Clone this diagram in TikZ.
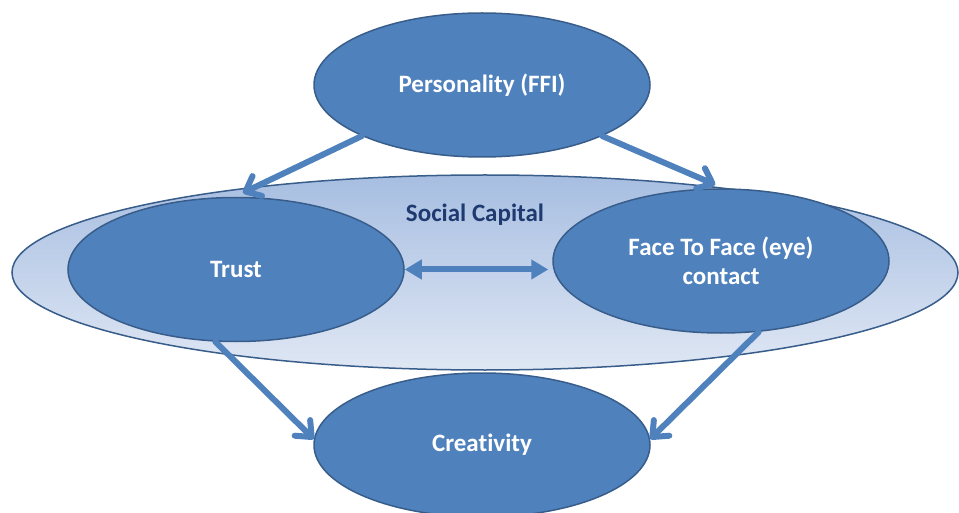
\documentclass[tikz,border=0pt]{standalone}
\usepackage{fontspec}
\setmainfont{Carlito}[Ligatures=NoCommon]
\usetikzlibrary{shapes.geometric,arrows.meta}
\definecolor{nodefill}{HTML}{4F81BD}
\definecolor{nodeedge}{HTML}{385D8A}
\definecolor{ringtop}{HTML}{A7BEE1}
\definecolor{ringbot}{HTML}{DFE7F4}
\definecolor{navy}{HTML}{1F3A70}
\begin{document}
\begin{tikzpicture}[x=1pt,y=-1pt,
  concept/.style={ellipse, draw=nodeedge, line width=1.5pt, fill=nodefill,
    minimum width=336pt, minimum height=144pt, inner sep=0pt, text=white,
    font=\fontsize{25}{29}\selectfont\bfseries, align=center},
  ring/.style={ellipse, draw=nodeedge, line width=1.5pt, top color=ringtop,
    bottom color=ringbot, minimum width=946pt, minimum height=195pt, inner sep=0pt},
  flow/.style={draw=nodefill, line width=6pt, line cap=round,
    -{Straight Barb[length=13pt,width=22pt,line cap=round,line join=round]}},
  link/.style={draw=nodefill, line width=6pt,
    {Triangle[length=17pt,width=19pt]}-{Triangle[length=17pt,width=19pt]}}]
\useasboundingbox (0,0) rectangle (959,513);

% Social capital ring and its title
\node[ring] (sc) at (485,272.5) {};
\node[text=navy, font=\fontsize{25}{29}\selectfont\bfseries] (sctitle) at (475,215) {Social Capital};

% Concepts
\node[concept] (pers)  at (482,85)  {Personality (FFI)};
\node[concept] (trust) at (236,269.5) {Trust};
\node[concept] (face)  at (721,261) {Face To Face (eye)\\contact};
\node[concept] (creat) at (482,445) {Creativity};

% Influences
\draw[flow, shorten >=9pt] (pers.203) -- (trust.91);
\draw[flow, shorten >=9pt] (pers.337) -- (face.88);
\draw[flow] (trust.254) -- (creat.178);
\draw[flow] (face.298) -- (creat.2);
\draw[link, shorten >=4pt] (trust.east) -- (trust.east -| face.west);
\end{tikzpicture}
\end{document}
